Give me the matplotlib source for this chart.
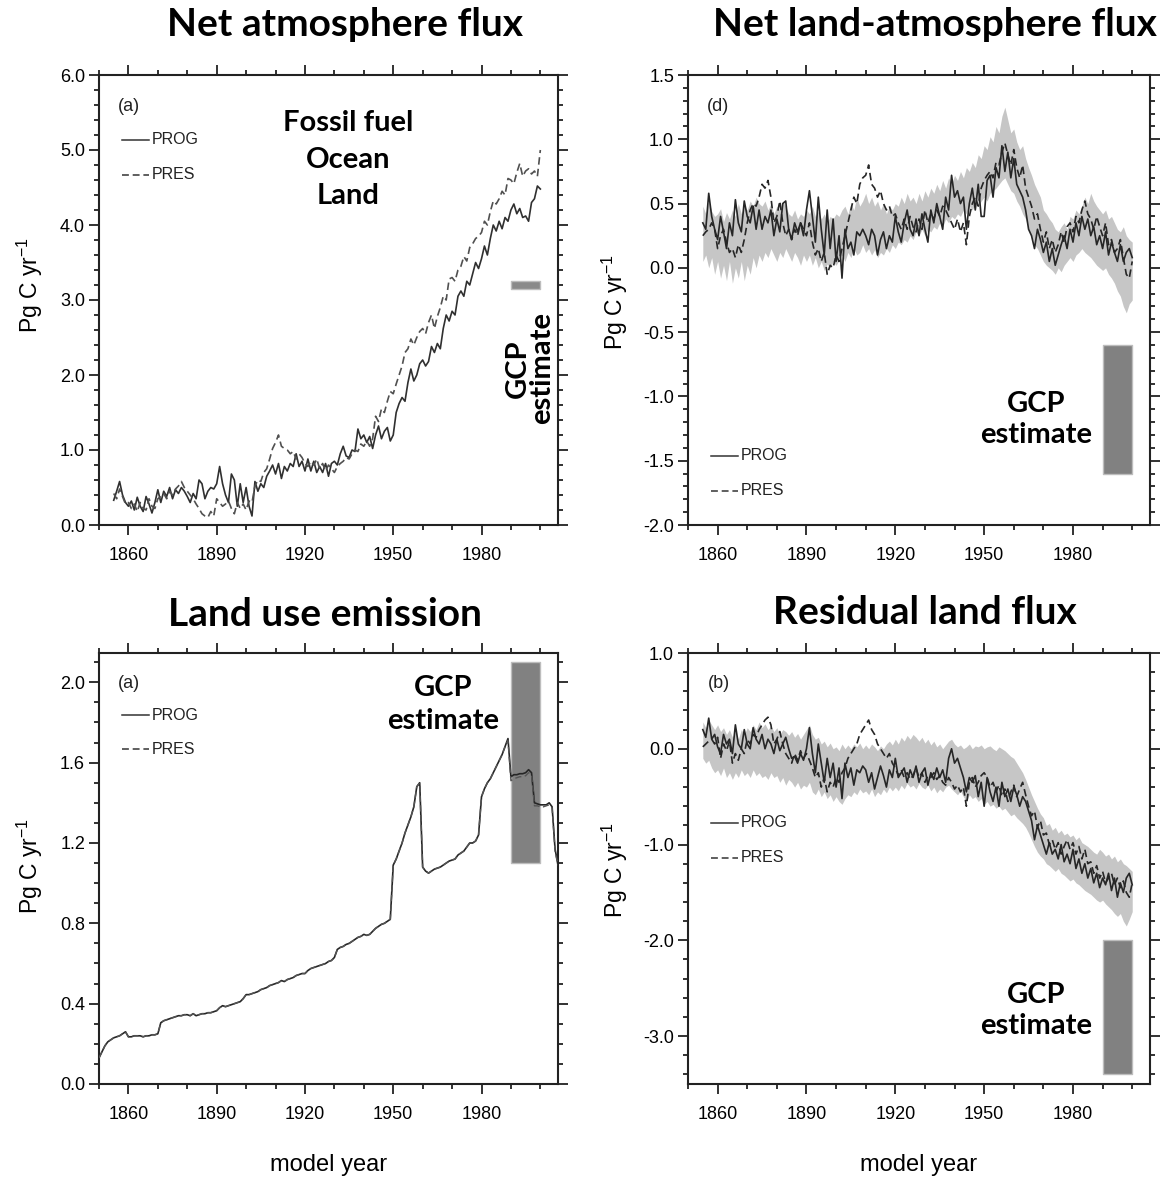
import numpy as np
import matplotlib
matplotlib.use("Agg")
import matplotlib.pyplot as plt
from matplotlib.ticker import MultipleLocator, FormatStrFormatter

plt.rcParams['font.family'] = ['Liberation Sans', 'DejaVu Sans']
plt.rcParams['axes.unicode_minus'] = False
plt.rcParams['mathtext.fontset'] = 'custom'
plt.rcParams['mathtext.rm'] = 'Liberation Sans'
plt.rcParams['mathtext.default'] = 'regular'

# ---------------------------------------------------------------- data
years = np.arange(1855, 2001)          # annual model years, 1855-2000
lu_years = np.arange(1850, 2007)       # land use emission, 1850-2006

# Net atmosphere flux (Pg C / yr)
atm_prog = [
    0.33, 0.45, 0.58, 0.40, 0.30, 0.25, 0.32, 0.20, 0.37, 0.25,
    0.18, 0.38, 0.28, 0.16, 0.30, 0.47, 0.30, 0.45, 0.38, 0.50,
    0.35, 0.47, 0.42, 0.50, 0.45, 0.38, 0.30, 0.42, 0.35, 0.60,
    0.55, 0.35, 0.45, 0.50, 0.48, 0.55, 0.78, 0.55, 0.40, 0.30,
    0.68, 0.60, 0.25, 0.55, 0.30, 0.50, 0.25, 0.12, 0.58, 0.45,
    0.55, 0.50, 0.65, 0.72, 0.80, 0.68, 0.82, 0.62, 0.78, 0.72,
    0.82, 0.78, 0.95, 0.78, 0.85, 0.72, 0.88, 0.72, 0.85, 0.70,
    0.78, 0.70, 0.82, 0.65, 0.82, 0.85, 0.80, 0.95, 1.05, 0.92,
    0.90, 1.00, 0.98, 1.28, 1.15, 1.20, 1.10, 1.18, 1.02, 1.20,
    1.32, 1.15, 1.25, 1.30, 1.12, 1.20, 1.50, 1.62, 1.70, 1.65,
    1.90, 2.08, 1.92, 2.00, 2.15, 2.20, 2.12, 2.18, 2.38, 2.30,
    2.42, 2.35, 2.62, 2.80, 2.72, 2.85, 2.80, 3.05, 3.12, 3.05,
    3.25, 3.20, 3.35, 3.50, 3.42, 3.55, 3.72, 3.60, 3.82, 4.00,
    3.92, 4.05, 3.95, 4.10, 4.05, 4.20, 4.28, 4.15, 4.22, 4.10,
    4.12, 4.05, 4.30, 4.35, 4.52, 4.48,
]
atm_pres = [
    0.42, 0.35, 0.48, 0.38, 0.28, 0.30, 0.22, 0.28, 0.18, 0.30,
    0.22, 0.20, 0.35, 0.25, 0.22, 0.35, 0.38, 0.42, 0.35, 0.45,
    0.40, 0.48, 0.52, 0.58, 0.50, 0.45, 0.40, 0.35, 0.28, 0.22,
    0.15, 0.12, 0.10, 0.18, 0.12, 0.35, 0.30, 0.25, 0.28, 0.32,
    0.22, 0.15, 0.30, 0.22, 0.28, 0.20, 0.32, 0.30, 0.52, 0.60,
    0.58, 0.70, 0.75, 0.88, 1.02, 1.10, 1.20, 1.05, 1.02, 1.00,
    0.95, 0.98, 0.88, 0.95, 0.90, 0.82, 0.78, 0.85, 0.80, 0.88,
    0.75, 0.82, 0.72, 0.80, 0.75, 0.70, 0.78, 0.82, 0.85, 0.90,
    0.88, 0.95, 1.00, 0.98, 1.08, 1.05, 1.12, 1.05, 1.15, 1.45,
    1.38, 1.55, 1.50, 1.65, 1.78, 1.75, 1.88, 2.00, 2.12, 2.30,
    2.35, 2.48, 2.40, 2.50, 2.58, 2.62, 2.55, 2.70, 2.80, 2.62,
    2.78, 2.90, 3.05, 3.00, 3.28, 3.30, 3.25, 3.40, 3.45, 3.58,
    3.52, 3.70, 3.75, 3.82, 3.85, 3.90, 4.05, 4.00, 4.18, 4.32,
    4.28, 4.35, 4.45, 4.40, 4.62, 4.60, 4.55, 4.70, 4.82, 4.65,
    4.72, 4.75, 4.68, 4.72, 4.65, 5.00,
]

# Net land-atmosphere flux (Pg C / yr)
nla_prog = [
    0.35, 0.30, 0.58, 0.40, 0.30, 0.22, 0.40, 0.28, 0.15, 0.35,
    0.25, 0.53, 0.35, 0.28, 0.52, 0.40, 0.35, 0.48, 0.30, 0.45,
    0.30, 0.40, 0.35, 0.45, 0.25, 0.38, 0.28, 0.50, 0.52, 0.30,
    0.22, 0.35, 0.28, 0.35, 0.25, 0.45, 0.60, 0.40, 0.20, 0.55,
    0.30, 0.10, 0.45, 0.15, 0.38, 0.05, 0.25, -0.08, 0.30, 0.15,
    0.20, 0.10, 0.28, 0.25, 0.30, 0.25, 0.18, 0.30, 0.25, 0.10,
    0.22, 0.28, 0.15, 0.25, 0.20, 0.40, 0.28, 0.20, 0.35, 0.45,
    0.30, 0.25, 0.38, 0.25, 0.42, 0.30, 0.20, 0.45, 0.35, 0.50,
    0.40, 0.30, 0.55, 0.45, 0.72, 0.55, 0.60, 0.50, 0.55, 0.30,
    0.50, 0.62, 0.45, 0.65, 0.40, 0.40, 0.68, 0.72, 0.55, 0.78,
    0.70, 0.95, 0.75, 0.90, 0.70, 0.85, 0.65, 0.60, 0.55, 0.45,
    0.30, 0.25, 0.15, 0.30, 0.22, 0.12, 0.20, 0.05, 0.15, 0.02,
    0.10, 0.18, 0.25, 0.15, 0.30, 0.20, 0.35, 0.25, 0.40, 0.30,
    0.38, 0.25, 0.32, 0.18, 0.25, 0.15, 0.28, 0.10, 0.20, 0.12,
    0.05, 0.18, 0.05, 0.12, 0.15, 0.08,
]
nla_pres = [
    0.25, 0.28, 0.30, 0.35, 0.30, 0.15, 0.25, 0.30, 0.20, 0.12,
    0.15, 0.08, 0.18, 0.12, 0.22, 0.35, 0.45, 0.50, 0.48, 0.55,
    0.65, 0.62, 0.68, 0.55, 0.35, 0.40, 0.52, 0.35, 0.25, 0.30,
    0.22, 0.30, 0.25, 0.35, 0.30, 0.25, 0.35, 0.20, 0.10, 0.15,
    0.05, 0.12, -0.05, 0.02, 0.00, 0.10, 0.05, 0.15, 0.25, 0.35,
    0.45, 0.55, 0.50, 0.65, 0.70, 0.72, 0.80, 0.65, 0.62, 0.55,
    0.60, 0.50, 0.45, 0.48, 0.40, 0.42, 0.35, 0.30, 0.38, 0.30,
    0.40, 0.32, 0.28, 0.38, 0.30, 0.45, 0.35, 0.42, 0.38, 0.45,
    0.40, 0.48, 0.45, 0.40, 0.35, 0.30, 0.38, 0.28, 0.35, 0.18,
    0.40, 0.50, 0.55, 0.48, 0.62, 0.68, 0.72, 0.75, 0.70, 0.82,
    0.80, 0.90, 0.97, 0.88, 0.80, 0.92, 0.78, 0.70, 0.80, 0.62,
    0.55, 0.48, 0.38, 0.42, 0.30, 0.20, 0.28, 0.15, 0.22, 0.12,
    0.18, 0.28, 0.20, 0.32, 0.35, 0.28, 0.40, 0.35, 0.45, 0.52,
    0.42, 0.38, 0.30, 0.40, 0.32, 0.25, 0.35, 0.18, 0.22, 0.12,
    0.15, 0.22, 0.08, -0.05, -0.08, 0.05,
]
nla_band_hi = [
    0.48, 0.42, 0.52, 0.44, 0.40, 0.42, 0.46, 0.36, 0.43, 0.38,
    0.45, 0.40, 0.50, 0.42, 0.48, 0.45, 0.52, 0.48, 0.55, 0.50,
    0.48, 0.52, 0.45, 0.50, 0.42, 0.48, 0.45, 0.52, 0.48, 0.42,
    0.40, 0.45, 0.38, 0.42, 0.40, 0.45, 0.42, 0.48, 0.40, 0.44,
    0.38, 0.42, 0.35, 0.40, 0.38, 0.42, 0.40, 0.45, 0.48, 0.42,
    0.50, 0.45, 0.55, 0.48, 0.52, 0.58, 0.50, 0.55, 0.48, 0.52,
    0.45, 0.50, 0.42, 0.48, 0.45, 0.50, 0.48, 0.55, 0.50, 0.58,
    0.52, 0.55, 0.50, 0.58, 0.52, 0.60, 0.55, 0.62, 0.58, 0.65,
    0.60, 0.68, 0.62, 0.70, 0.65, 0.72, 0.68, 0.75, 0.70, 0.78,
    0.75, 0.82, 0.78, 0.88, 0.85, 0.95, 0.92, 1.02, 0.98, 1.10,
    1.05, 1.18, 1.25, 1.15, 1.05, 1.08, 0.98, 0.92, 0.95, 0.85,
    0.78, 0.72, 0.65, 0.60, 0.55, 0.45, 0.42, 0.38, 0.35, 0.30,
    0.28, 0.32, 0.35, 0.30, 0.40, 0.38, 0.45, 0.42, 0.48, 0.55,
    0.50, 0.58, 0.52, 0.48, 0.45, 0.42, 0.45, 0.38, 0.40, 0.35,
    0.30, 0.28, 0.32, 0.25, 0.22, 0.20,
]
nla_band_lo = [
    0.05, 0.10, 0.00, 0.08, -0.05, 0.05, -0.08, 0.02, -0.10, 0.05,
    -0.12, 0.00, -0.08, 0.05, -0.10, 0.02, -0.05, 0.08, 0.00, 0.10,
    0.05, 0.12, 0.08, 0.15, 0.10, 0.05, 0.12, 0.08, 0.15, 0.10,
    0.05, 0.12, 0.08, 0.02, 0.10, 0.05, 0.10, 0.02, 0.08, 0.00,
    0.05, -0.02, 0.03, 0.00, 0.05, 0.02, 0.06, 0.10, 0.05, 0.12,
    0.08, 0.15, 0.10, 0.12, 0.18, 0.12, 0.15, 0.10, 0.14, 0.08,
    0.12, 0.10, 0.15, 0.12, 0.18, 0.15, 0.20, 0.18, 0.22, 0.20,
    0.25, 0.22, 0.28, 0.25, 0.30, 0.25, 0.30, 0.28, 0.32, 0.30,
    0.35, 0.32, 0.38, 0.35, 0.40, 0.38, 0.42, 0.40, 0.45, 0.42,
    0.48, 0.45, 0.50, 0.48, 0.52, 0.55, 0.52, 0.58, 0.60, 0.62,
    0.65, 0.68, 0.70, 0.65, 0.60, 0.58, 0.52, 0.48, 0.42, 0.38,
    0.30, 0.25, 0.18, 0.15, 0.10, 0.05, 0.02, 0.00, -0.02, -0.05,
    0.00, -0.03, 0.02, 0.05, 0.08, 0.05, 0.10, 0.12, 0.15, 0.12,
    0.10, 0.08, 0.05, 0.02, 0.00, -0.02, 0.00, -0.05, -0.08, -0.12,
    -0.18, -0.22, -0.30, -0.35, -0.28, -0.25,
]

# Land use emission (Pg C / yr)
lu_prog = [
    0.13, 0.16, 0.19, 0.21, 0.22, 0.23, 0.235, 0.24, 0.25, 0.26,
    0.235, 0.235, 0.24, 0.24, 0.24, 0.235, 0.24, 0.24, 0.245, 0.245,
    0.25, 0.305, 0.315, 0.32, 0.325, 0.33, 0.335, 0.34, 0.34, 0.345,
    0.345, 0.34, 0.35, 0.34, 0.345, 0.35, 0.35, 0.355, 0.355, 0.36,
    0.365, 0.38, 0.39, 0.385, 0.39, 0.395, 0.40, 0.405, 0.41, 0.425,
    0.445, 0.445, 0.45, 0.455, 0.46, 0.47, 0.475, 0.48, 0.49, 0.495,
    0.50, 0.505, 0.515, 0.51, 0.52, 0.525, 0.53, 0.54, 0.545, 0.55,
    0.55, 0.565, 0.575, 0.58, 0.585, 0.59, 0.595, 0.60, 0.61, 0.615,
    0.63, 0.67, 0.68, 0.685, 0.695, 0.70, 0.71, 0.72, 0.73, 0.735,
    0.745, 0.74, 0.745, 0.76, 0.775, 0.785, 0.795, 0.80, 0.81, 0.82,
    1.09, 1.12, 1.16, 1.20, 1.25, 1.29, 1.33, 1.38, 1.48, 1.50,
    1.08, 1.06, 1.05, 1.06, 1.07, 1.075, 1.08, 1.09, 1.10, 1.11,
    1.115, 1.12, 1.14, 1.15, 1.16, 1.18, 1.20, 1.20, 1.21, 1.24,
    1.43, 1.47, 1.50, 1.52, 1.55, 1.58, 1.61, 1.64, 1.68, 1.72,
    1.53, 1.54, 1.54, 1.545, 1.545, 1.55, 1.565, 1.55, 1.40, 1.395,
    1.39, 1.39, 1.39, 1.40, 1.38, 1.17, 1.09,
]
lu_pres = [
    0.13, 0.16, 0.19, 0.21, 0.22, 0.23, 0.235, 0.24, 0.25, 0.26,
    0.235, 0.235, 0.24, 0.24, 0.24, 0.235, 0.24, 0.24, 0.245, 0.245,
    0.25, 0.305, 0.315, 0.32, 0.325, 0.33, 0.335, 0.34, 0.34, 0.345,
    0.345, 0.34, 0.35, 0.34, 0.345, 0.35, 0.35, 0.355, 0.355, 0.36,
    0.365, 0.38, 0.39, 0.385, 0.39, 0.395, 0.40, 0.405, 0.41, 0.425,
    0.445, 0.445, 0.45, 0.455, 0.46, 0.47, 0.475, 0.48, 0.49, 0.495,
    0.50, 0.505, 0.515, 0.51, 0.52, 0.525, 0.53, 0.54, 0.545, 0.55,
    0.55, 0.565, 0.575, 0.58, 0.585, 0.59, 0.595, 0.60, 0.61, 0.615,
    0.63, 0.67, 0.68, 0.685, 0.695, 0.70, 0.71, 0.72, 0.73, 0.735,
    0.745, 0.74, 0.745, 0.76, 0.775, 0.785, 0.795, 0.80, 0.81, 0.82,
    1.09, 1.12, 1.16, 1.20, 1.25, 1.29, 1.33, 1.38, 1.48, 1.50,
    1.08, 1.06, 1.05, 1.06, 1.07, 1.075, 1.08, 1.09, 1.10, 1.11,
    1.115, 1.12, 1.14, 1.15, 1.16, 1.18, 1.20, 1.20, 1.21, 1.24,
    1.43, 1.47, 1.50, 1.52, 1.55, 1.58, 1.61, 1.64, 1.68, 1.71,
    1.51, 1.52, 1.525, 1.53, 1.53, 1.535, 1.55, 1.54, 1.385, 1.385,
    1.38, 1.38, 1.385, 1.39, 1.375, 1.16, 1.09,
]

# Residual land flux (Pg C / yr)
res_prog = [
    0.20, 0.12, 0.32, 0.10, 0.15, 0.02, -0.05, 0.15, 0.05, 0.10,
    -0.05, 0.25, 0.05, 0.00, 0.20, 0.05, 0.00, 0.22, 0.10, 0.05,
    0.15, 0.00, 0.10, 0.05, -0.05, 0.10, -0.02, 0.05, 0.12, 0.00,
    -0.10, -0.08, -0.15, -0.05, -0.12, 0.00, 0.22, -0.05, -0.25, 0.05,
    -0.15, -0.35, -0.10, -0.30, -0.15, -0.40, -0.20, -0.52, -0.15, -0.30,
    -0.20, -0.38, -0.22, -0.25, -0.18, -0.22, -0.35, -0.25, -0.42, -0.30,
    -0.18, -0.28, -0.40, -0.22, -0.30, -0.10, -0.30, -0.25, -0.20, -0.35,
    -0.22, -0.30, -0.18, -0.35, -0.25, -0.20, -0.38, -0.25, -0.32, -0.20,
    -0.30, -0.22, -0.35, -0.10, 0.00, -0.15, -0.10, -0.20, -0.30, -0.45,
    -0.30, -0.35, -0.28, -0.50, -0.35, -0.60, -0.30, -0.45, -0.55, -0.40,
    -0.60, -0.35, -0.50, -0.42, -0.55, -0.40, -0.48, -0.60, -0.50, -0.55,
    -0.65, -0.75, -0.95, -0.80, -0.90, -1.00, -1.10, -0.98, -1.10, -1.05,
    -1.15, -1.00, -1.18, -1.10, -1.20, -1.05, -1.25, -1.15, -1.30, -1.20,
    -1.35, -1.25, -1.40, -1.30, -1.45, -1.35, -1.42, -1.30, -1.48, -1.35,
    -1.55, -1.40, -1.50, -1.35, -1.30, -1.42,
]
res_pres = [
    0.02, 0.05, 0.08, 0.10, 0.05, 0.12, -0.10, 0.05, -0.02, 0.08,
    -0.15, -0.05, -0.12, 0.00, -0.05, 0.10, 0.05, 0.15, 0.12, 0.20,
    0.25, 0.30, 0.33, 0.25, 0.05, 0.10, 0.18, 0.05, -0.05, -0.10,
    -0.15, -0.05, -0.12, -0.02, -0.10, -0.05, -0.12, -0.20, -0.30, -0.25,
    -0.40, -0.30, -0.45, -0.35, -0.40, -0.30, -0.35, -0.25, -0.20, -0.10,
    -0.05, 0.00, 0.05, 0.15, 0.20, 0.25, 0.30, 0.20, 0.15, 0.05,
    0.00, -0.05, -0.10, -0.05, -0.15, -0.20, -0.28, -0.22, -0.30, -0.25,
    -0.32, -0.28, -0.20, -0.30, -0.25, -0.35, -0.28, -0.30, -0.25, -0.32,
    -0.28, -0.35, -0.38, -0.30, -0.35, -0.42, -0.38, -0.45, -0.40, -0.60,
    -0.35, -0.30, -0.40, -0.35, -0.28, -0.25, -0.30, -0.40, -0.35, -0.45,
    -0.38, -0.50, -0.42, -0.55, -0.45, -0.38, -0.50, -0.42, -0.35, -0.48,
    -0.60, -0.70, -0.65, -0.82, -0.75, -0.90, -0.88, -1.00, -0.95, -1.05,
    -0.98, -1.10, -1.02, -0.95, -1.05, -0.98, -1.10, -1.02, -1.15, -1.05,
    -1.20, -1.18, -1.30, -1.22, -1.35, -1.28, -1.40, -1.35, -1.30, -1.42,
    -1.35, -1.45, -1.38, -1.50, -1.55, -1.40,
]
res_band_hi = [
    0.28, 0.22, 0.30, 0.25, 0.20, 0.25, 0.18, 0.22, 0.15, 0.20,
    0.12, 0.18, 0.10, 0.20, 0.15, 0.22, 0.18, 0.25, 0.20, 0.28,
    0.22, 0.26, 0.20, 0.24, 0.18, 0.22, 0.15, 0.20, 0.18, 0.14,
    0.18, 0.12, 0.16, 0.10, 0.15, 0.20, 0.25, 0.15, 0.10, 0.12,
    0.05, 0.08, 0.02, 0.06, 0.00, 0.02, -0.02, 0.05, 0.00, 0.04,
    0.00, 0.05, 0.02, 0.06, 0.00, 0.04, 0.00, 0.05, 0.02, -0.02,
    0.03, 0.00, 0.05, 0.08, 0.04, 0.10, 0.05, 0.12, 0.08, 0.14,
    0.10, 0.15, 0.12, 0.08, 0.12, 0.06, 0.10, 0.04, 0.08, 0.02,
    0.05, 0.00, 0.04, 0.08, 0.10, 0.05, 0.02, 0.04, 0.00, 0.02,
    0.05, 0.00, 0.03, 0.02, 0.04, 0.00, 0.02, 0.03, 0.00, -0.02,
    0.02, 0.00, -0.02, -0.05, -0.08, -0.10, -0.15, -0.20, -0.25, -0.32,
    -0.40, -0.48, -0.55, -0.62, -0.68, -0.72, -0.80, -0.78, -0.85, -0.82,
    -0.88, -0.85, -0.90, -0.88, -0.92, -0.90, -0.95, -0.92, -0.98, -1.00,
    -1.02, -1.05, -1.08, -1.10, -1.05, -1.08, -1.12, -1.10, -1.15, -1.12,
    -1.18, -1.15, -1.20, -1.22, -1.25, -1.28,
]
res_band_lo = [
    -0.10, -0.15, -0.12, -0.20, -0.25, -0.22, -0.28, -0.20, -0.30, -0.25,
    -0.32, -0.25, -0.30, -0.22, -0.28, -0.25, -0.30, -0.22, -0.28, -0.25,
    -0.30, -0.28, -0.32, -0.25, -0.30, -0.28, -0.35, -0.30, -0.38, -0.32,
    -0.35, -0.40, -0.35, -0.42, -0.38, -0.40, -0.35, -0.45, -0.48, -0.42,
    -0.50, -0.45, -0.52, -0.48, -0.55, -0.50, -0.55, -0.58, -0.52, -0.48,
    -0.50, -0.45, -0.48, -0.42, -0.46, -0.44, -0.48, -0.42, -0.50, -0.45,
    -0.48, -0.42, -0.46, -0.40, -0.44, -0.40, -0.44, -0.38, -0.42, -0.36,
    -0.40, -0.38, -0.42, -0.36, -0.40, -0.42, -0.38, -0.44, -0.40, -0.46,
    -0.42, -0.45, -0.40, -0.38, -0.42, -0.45, -0.48, -0.44, -0.50, -0.55,
    -0.48, -0.52, -0.50, -0.55, -0.52, -0.58, -0.55, -0.60, -0.58, -0.62,
    -0.60, -0.64, -0.62, -0.66, -0.70, -0.68, -0.72, -0.75, -0.78, -0.82,
    -0.88, -0.95, -1.02, -1.08, -1.12, -1.15, -1.20, -1.22, -1.25, -1.28,
    -1.25, -1.30, -1.32, -1.35, -1.38, -1.36, -1.40, -1.42, -1.45, -1.48,
    -1.50, -1.52, -1.55, -1.58, -1.60, -1.58, -1.62, -1.65, -1.68, -1.72,
    -1.75, -1.72, -1.80, -1.85, -1.78, -1.70,
]

# Global Carbon Project estimates over 1990-2000: (low, high)
gcp_years = (1990, 2000)
gcp_atm = (3.15, 3.25)
gcp_nla = (-1.6, -0.6)
gcp_lu = (1.1, 2.1)
gcp_res = (-3.4, -2.0)

panel_titles = ["Net atmosphere flux", "Net land-atmosphere flux",
                "Land use emission", "Residual land flux"]
panel_tags = ["(a)", "(d)", "(a)", "(b)"]
series_names = ["PROG", "PRES"]
x_ticks = [1860, 1890, 1920, 1950, 1980]

# ---------------------------------------------------------------- styling
W, H = 1164, 1188
fig = plt.figure(figsize=(W / 100, H / 100), dpi=100)

LINE = "#262626"
BAND = "#c6c6c6"
BOX = "#818181"
DASH = (0, (4.5, 2.5))
BOLD = dict(family=["Lato", "DejaVu Sans"], weight="bold")


def px_axes(left, top, right, bottom):
    ax = fig.add_axes([left / W, 1 - bottom / H, (right - left) / W,
                       (bottom - top) / H])
    ax._px = (left, top, right, bottom)
    return ax


def style(ax, ylim, ymaj, ymin, label_x, label_y):
    ax.set_xlim(1850, 2006)
    ax.set_ylim(*ylim)
    ax.xaxis.set_major_locator(plt.FixedLocator(x_ticks))
    ax.xaxis.set_minor_locator(MultipleLocator(10))
    ax.yaxis.set_major_locator(MultipleLocator(ymaj))
    ax.yaxis.set_minor_locator(MultipleLocator(ymin))
    ax.yaxis.set_major_formatter(FormatStrFormatter("%.1f"))
    ax.tick_params(which="both", direction="out", top=True, right=True,
                   width=1.3, color="#222222", labelsize=13)
    ax.tick_params(axis="x", pad=8)
    ax.tick_params(axis="y", pad=2.5)
    ax.tick_params(which="major", length=7.5)
    ax.tick_params(which="minor", length=3.5)
    for s in ax.spines.values():
        s.set_linewidth(1.5)
        s.set_color("#222222")
    left, top, right, bottom = ax._px
    ax.set_ylabel("Pg C yr$^{-1}$", fontsize=16.5, va="center")
    ax.yaxis.set_label_coords((label_x - left) / (right - left),
                              (bottom - label_y) / (bottom - top))


def xlabel(ax):
    left, top, right, bottom = ax._px
    ax.set_xlabel("model year", fontsize=17, va="center")
    ax.xaxis.set_label_coords(0.5, (bottom - 1165) / (bottom - top))


def legend(ax, y_prog, y_pres, x0=0.05, x1=0.108):
    for y, ls, name in ((y_prog, "-", series_names[0]),
                        (y_pres, DASH, series_names[1])):
        ax.plot([x0, x1], [y, y], transform=ax.transAxes, color="#333333",
                lw=1.1, linestyle=ls)
        ax.text(x1 + 0.007, y, name, transform=ax.transAxes, fontsize=11.5,
                va="center", ha="left", color="#222222")


def gcp_box(ax, lohi, color=BOX):
    ax.fill_between(gcp_years, lohi[0], lohi[1], color=color,
                    edgecolor="#bdbdbd", linewidth=1.0, zorder=1)


# Panel layout in pixels: left, top, right, bottom
ax1 = px_axes(99, 75, 558, 525)
ax2 = px_axes(688, 75, 1150, 525)
ax3 = px_axes(99, 653, 558, 1084)
ax4 = px_axes(688, 653, 1150, 1084)

# --- Net atmosphere flux
style(ax1, (0, 6), 1.0, 0.2, 30, 285)
gcp_box(ax1, gcp_atm, "#8a8a8a")
ax1.plot(years, atm_prog, color="#303030", lw=1.2, zorder=3)
ax1.plot(years, atm_pres, color="#505050", lw=1.2, linestyle=DASH, zorder=3)
legend(ax1, 0.856, 0.778)
ax1.text(1934.6, 4.87, "Fossil fuel\nOcean\nLand", ha="center", va="center",
         fontsize=21, linespacing=1.5, **BOLD)
ax1.text(1996.5, 2.09, "GCP\nestimate", ha="center", va="center",
         rotation=90, fontsize=21, linespacing=0.9, **BOLD)

# --- Net land-atmosphere flux
style(ax2, (-2.0, 1.5), 0.5, 0.1, 615, 302)
ax2.fill_between(years, nla_band_lo, nla_band_hi, color=BAND, lw=0, zorder=1)
gcp_box(ax2, gcp_nla)
ax2.plot(years, nla_prog, color=LINE, lw=1.2, zorder=3)
ax2.plot(years, nla_pres, color=LINE, lw=1.2, linestyle=DASH, zorder=3)
legend(ax2, 0.154, 0.076)
ax2.text(1967.5, -1.18, "GCP\nestimate", ha="center", va="center",
         fontsize=21, linespacing=1.25, **BOLD)

# --- Land use emission
style(ax3, (0, 2.146), 0.4, 0.1, 30, 866)
gcp_box(ax3, gcp_lu)
ax3.plot(lu_years, lu_prog, color=LINE, lw=1.2, zorder=3)
ax3.plot(lu_years, lu_pres, color="#555555", lw=1.0, linestyle=DASH, zorder=3)
legend(ax3, 0.855, 0.777)
ax3.text(1966.9, 1.89, "GCP\nestimate", ha="center", va="center",
         fontsize=21, linespacing=1.35, **BOLD)
xlabel(ax3)

# --- Residual land flux
style(ax4, (-3.5, 1.0), 1.0, 0.2, 615, 870)
ax4.fill_between(years, res_band_lo, res_band_hi, color=BAND, lw=0, zorder=1)
gcp_box(ax4, gcp_res)
ax4.plot(years, res_prog, color=LINE, lw=1.2, zorder=3)
ax4.plot(years, res_pres, color=LINE, lw=1.2, linestyle=DASH, zorder=3)
legend(ax4, 0.606, 0.525)
ax4.text(1967.5, -2.73, "GCP\nestimate", ha="center", va="center",
         fontsize=21, linespacing=1.25, **BOLD)
xlabel(ax4)

for ax, tag in zip((ax1, ax2, ax3, ax4), panel_tags):
    ax.text(0.066, 0.93, tag, transform=ax.transAxes, fontsize=13,
            ha="center", va="center", color="#222222")

# Panel titles
title_pos = [(345, 25), (935, 25), (325, 615), (925, 612)]
for (x, y), t in zip(title_pos, panel_titles):
    fig.text(x / W, 1 - y / H, t, ha="center", va="center", fontsize=28,
             **BOLD)

fig.savefig("out.png", dpi=100, facecolor="white")
